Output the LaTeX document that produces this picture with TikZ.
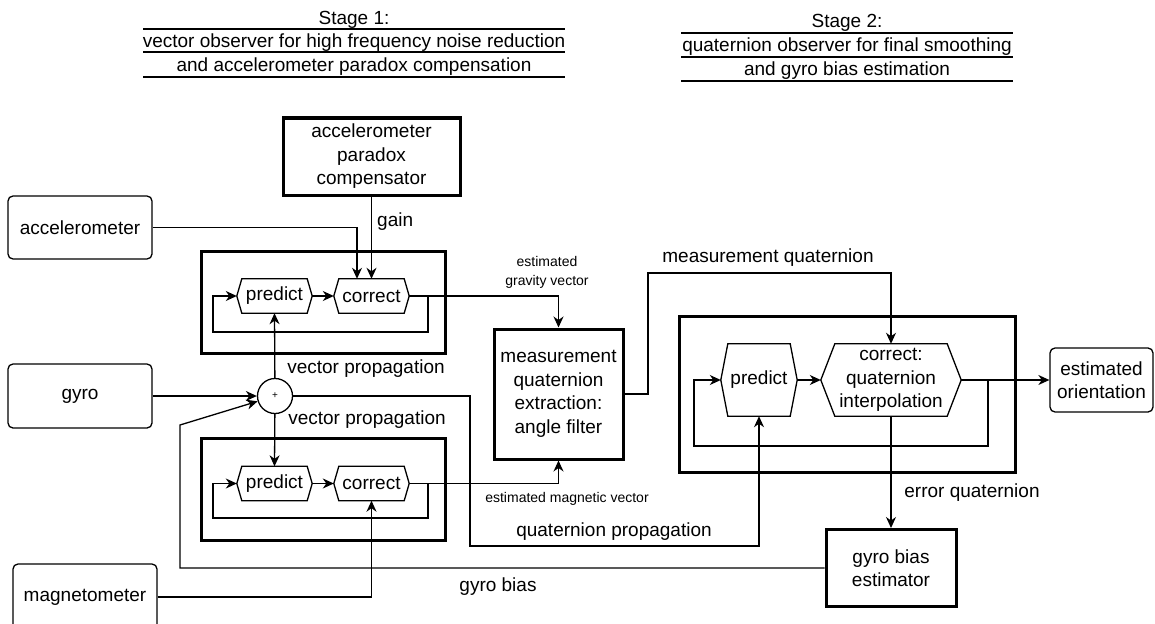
\documentclass[tikz,border=0pt]{standalone}
\usepackage{fontspec}
\setmainfont{Liberation Sans}
\newfontfamily\titlefont{Liberation Sans}
\usetikzlibrary{arrows.meta}
% hexagonal outline around a plain rectangular node
\newcommand\hexoutline[2]{%
  \draw[hexline] (#1.west) -- ([xshift=#2]#1.north west) -- ([xshift=-#2]#1.north east)
    -- (#1.east) -- ([xshift=-#2]#1.south east) -- ([xshift=#2]#1.south west) -- cycle;}
\begin{document}
\begin{tikzpicture}[x=1pt,y=-1pt,
  every node/.style={font=\fontsize{19}{23.5}\selectfont, inner sep=0pt},
  conn/.style={line width=1.3pt, -{Stealth[length=11pt,width=10pt,inset=3.5pt]}},
  wire/.style={line width=1.3pt},
  srcbox/.style={draw, line width=1.3pt, rounded corners=5pt, align=center},
  blockbox/.style={draw, line width=3pt, align=center},
  frame/.style={draw, line width=3pt},
  hexnode/.style={align=center},
  hexline/.style={draw, line width=1.3pt},
  lbl/.style={font=\fontsize{19}{23}\selectfont},
  smalllbl/.style={font=\fontsize{14}{19}\selectfont, align=center},
  ttl/.style={font=\titlefont\fontsize{19}{24}\selectfont, anchor=base},
  rule/.style={line width=1.3pt}
]
\useasboundingbox (0,0) rectangle (1155,623);

% stage titles
\node[ttl] (s1a) at (354,25) {Stage 1:};
\node[ttl] (s1b) at (354,48) {vector observer for high frequency noise reduction};
\node[ttl] (s1c) at (354,72) {and accelerometer paradox compensation};
\draw[rule] (143,29) -- (565,29);
\draw[rule] (143,52) -- (565,52);
\draw[rule] (143,77) -- (565,77);
\node[ttl] (s2a) at (847,28) {Stage 2:};
\node[ttl] (s2b) at (847,52) {quaternion observer for final smoothing};
\node[ttl] (s2c) at (847,76) {and gyro bias estimation};
\draw[rule] (681,33) -- (1013,33);
\draw[rule] (681,57) -- (1013,57);
\draw[rule] (681,81) -- (1013,81);

% observer frames
\draw[frame] (201,251) rectangle (445,353);
\draw[frame] (201,438) rectangle (445,540);
\draw[frame] (679,316) rectangle (1015,472);

% sources and blocks
\node[blockbox, minimum width=177pt, minimum height=77pt] (apc) at (371.5,156.5) {accelerometer\\paradox\\compensator};
\node[srcbox, minimum width=144pt, minimum height=63pt] (acc) at (80,227.5) {accelerometer};
\node[srcbox, minimum width=144pt, minimum height=64pt] (gyro) at (80,396) {gyro};
\node[srcbox, minimum width=144pt, minimum height=66pt] (mag) at (85,597) {magnetometer};
\node[srcbox, minimum width=103pt, minimum height=64pt] (eo) at (1101.5,380) {estimated\\orientation};
\node[blockbox, minimum width=129pt, minimum height=130pt] (meas) at (558.5,394) {measurement\\quaternion\\extraction:\\angle filter};
\node[blockbox, minimum width=130pt, minimum height=77pt] (gbe) at (891,568) {gyro bias\\estimator};
\node[draw, circle, line width=1.3pt, minimum size=35pt, font=\fontsize{10}{12}\selectfont] (sum) at (275,396) {+};

% predict / correct stages
\node[hexnode, minimum width=75pt, minimum height=34pt] (ptop) at (274.5,296) {predict};
\node[hexnode, minimum width=75pt, minimum height=34pt] (ctop) at (371.5,296) {correct};
\node[hexnode, minimum width=75pt, minimum height=34pt] (pbot) at (274.5,483.5) {predict};
\node[hexnode, minimum width=75pt, minimum height=34pt] (cbot) at (371.5,483.5) {correct};
\node[hexnode, minimum width=76pt, minimum height=72pt] (p2) at (759,380) {predict};
\node[hexnode, minimum width=140pt, minimum height=72pt] (c2) at (891,380) {correct:\\quaternion\\interpolation};
\hexoutline{ptop}{5pt}
\hexoutline{ctop}{5pt}
\hexoutline{pbot}{5pt}
\hexoutline{cbot}{5pt}
\hexoutline{p2}{7pt}
\hexoutline{c2}{14pt}

% corner points of the feedback loops and routed lines
\coordinate (ta) at (428,296);
\coordinate (tb) at (428,332);
\coordinate (tc) at (213,332);
\coordinate (td) at (213,296);
\coordinate (ba) at (428,483.5);
\coordinate (bb) at (428,518);
\coordinate (bc) at (213,518);
\coordinate (bd) at (213,483.5);
\coordinate (sa) at (988,380);
\coordinate (sb) at (988,446);
\coordinate (sc) at (694,446);
\coordinate (sd) at (694,380);
\coordinate (gb1) at (180,568);
\coordinate (gb2) at (180,425);
\coordinate (qp1) at (470,396);
\coordinate (qp2) at (470,546);
\coordinate (mq1) at (648,394);
\coordinate (mq2) at (648,273);

% stage 1, gravity branch
\draw[conn] (acc.east) -| ([xshift=-14.5pt]ctop.north);
\draw[conn] (apc.south) -- (ctop.north);
\draw[conn] (ptop.east) -- (ctop.west);
\draw[wire] (ctop.east) -- (ta);
\draw[conn] (ta) -- (tb) -- (tc) -- (td) -- (ptop.west);
\draw[conn] (ta) -| (meas.north);

% gyro input and propagation
\draw[conn] (gyro.east) -- (sum);
\draw[conn] (sum) -- (ptop.south);
\draw[conn] (sum) -- (pbot.north);
\draw[conn] (gbe.west) -- (gb1) -- (gb2) -- (sum);
\draw[conn] (sum.east) -- (qp1) -- (qp2) -| (p2.south);

% stage 1, magnetic branch
\draw[conn] (mag.east) -| (cbot.south);
\draw[conn] (pbot.east) -- (cbot.west);
\draw[wire] (cbot.east) -- (ba);
\draw[conn] (ba) -- (bb) -- (bc) -- (bd) -- (pbot.west);
\draw[conn] (ba) -| (meas.south);

% stage 2
\draw[conn] (meas.east) -- (mq1) -- (mq2) -| (c2.north);
\draw[conn] (p2.east) -- (c2.west);
\draw[wire] (c2.east) -- (sa);
\draw[conn] (sa) -- (sb) -- (sc) -- (sd) -- (p2.west);
\draw[conn] (sa) -- (eo.west);
\draw[conn] (c2.south) -- (gbe.north);

% connector labels
\node[lbl, anchor=west] (lgain) at (377,222) {gain};
\node[lbl] (lvp1) at (366,369) {vector propagation};
\node[lbl] (lvp2) at (367,420) {vector propagation};
\node[lbl] (lmq) at (768,258) {measurement quaternion};
\node[lbl] (lqp) at (614,532) {quaternion propagation};
\node[lbl] (lgb) at (498,587) {gyro bias};
\node[lbl] (leq) at (972,493) {error quaternion};
\node[smalllbl] (lmv) at (567,499) {estimated magnetic vector};
\node[smalllbl] (lgv) at (547,272) {estimated\\gravity vector};
\end{tikzpicture}
\end{document}
